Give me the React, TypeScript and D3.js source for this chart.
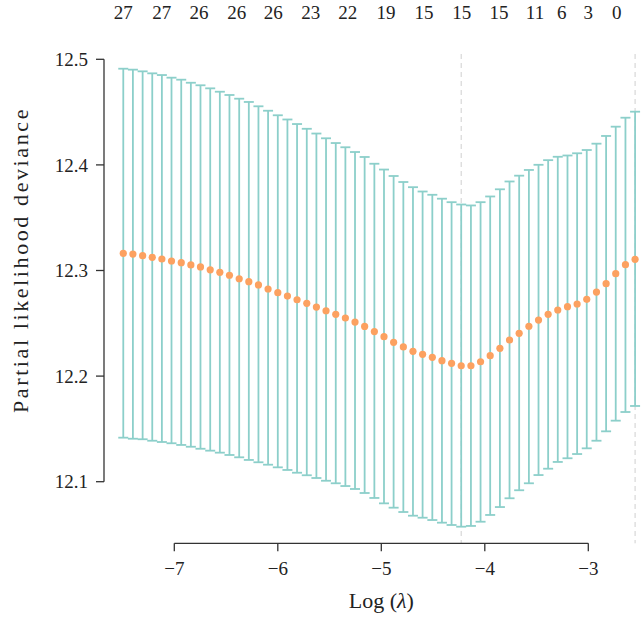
import React from "react";
import * as d3 from "d3";

const logLambda = [
  -7.493, -7.4, -7.306, -7.213, -7.12, -7.027, -6.933, -6.84, -6.747, -6.653,
  -6.56, -6.467, -6.373, -6.28, -6.187, -6.094, -6.0, -5.907, -5.814, -5.72,
  -5.627, -5.534, -5.44, -5.347, -5.254, -5.161, -5.067, -4.974, -4.881, -4.787,
  -4.694, -4.601, -4.507, -4.414, -4.321, -4.228, -4.134, -4.041, -3.948, -3.854,
  -3.761, -3.668, -3.574, -3.481, -3.388, -3.295, -3.201, -3.108, -3.015, -2.921,
  -2.828, -2.735, -2.641, -2.548,
];

const cvMean = [
  12.3163, 12.3156, 12.314, 12.3125, 12.3109, 12.309, 12.3074, 12.3053, 12.3034, 12.3006,
  12.2983, 12.2955, 12.2922, 12.2894, 12.2863, 12.2825, 12.279, 12.2758, 12.2723, 12.2689,
  12.2654, 12.2619, 12.2585, 12.255, 12.2512, 12.247, 12.2422, 12.2373, 12.232, 12.2276,
  12.2235, 12.2206, 12.2178, 12.2146, 12.2121, 12.2098, 12.2098, 12.2136, 12.2193, 12.2263,
  12.2342, 12.2405, 12.2472, 12.2531, 12.2585, 12.2626, 12.2657, 12.2683, 12.2727, 12.2796,
  12.2875, 12.297, 12.3055, 12.3106,
];

const cvUpper = [
  12.4911, 12.4902, 12.4886, 12.4867, 12.4851, 12.4826, 12.4807, 12.4778, 12.4754, 12.4725,
  12.4693, 12.4662, 12.4627, 12.4596, 12.4555, 12.4513, 12.447, 12.443, 12.4387, 12.4342,
  12.4297, 12.4252, 12.4207, 12.4167, 12.4122, 12.4075, 12.4011, 12.3956, 12.3895, 12.3838,
  12.3789, 12.3748, 12.3717, 12.368, 12.3647, 12.3625, 12.3616, 12.3647, 12.3701, 12.3769,
  12.3843, 12.3898, 12.3952, 12.4001, 12.4045, 12.4077, 12.4089, 12.411, 12.4141, 12.4201,
  12.4274, 12.4362, 12.4447, 12.4504,
];

const cvLower = [
  12.1417, 12.1407, 12.1402, 12.1388, 12.1376, 12.1364, 12.1348, 12.1331, 12.1312, 12.1294,
  12.1275, 12.1253, 12.1231, 12.1206, 12.1184, 12.1161, 12.1136, 12.1111, 12.1085, 12.1061,
  12.1035, 12.1009, 12.0985, 12.0959, 12.0931, 12.0893, 12.0846, 12.0795, 12.0754, 12.0713,
  12.0678, 12.0659, 12.0637, 12.0612, 12.059, 12.0574, 12.0581, 12.0621, 12.0685, 12.076,
  12.0843, 12.0919, 12.0985, 12.1063, 12.1123, 12.1187, 12.1222, 12.1262, 12.1316, 12.1388,
  12.1477, 12.1578, 12.166, 12.1717,
];

const topLabelPos = [
  -7.493, -7.122, -6.761, -6.397, -6.043, -5.682, -5.325, -4.955, -4.588, -4.223,
  -3.863, -3.515, -3.257, -3.0, -2.726,
];
const topLabels = ["27", "27", "26", "26", "26", "23", "22", "19", "15", "15", "15", "11", "6", "3", "0"];

const xTicks = [-7, -6, -5, -4, -3];
const yTicks = [12.1, 12.2, 12.3, 12.4, 12.5];
const lambdaMin = -4.228;
const lambda1se = -2.548;

const W = 641;
const H = 618;
const FONT = "'Liberation Serif', 'Times New Roman', serif";

export default function App() {
  const x = d3.scaleLinear().domain([-7, -3]).range([174.3, 588.3]);
  const y = d3.scaleLinear().domain([12.1, 12.5]).range([481.7, 59.3]);
  const axisX = 104;
  const axisY = 543.3;
  const plotTop = 54;
  const barColor = "#8ccfca";
  const dotColor = "#fca160";
  const capHalf = 5;
  const textColor = "#222";

  return (
    <svg
      width={W}
      height={H}
      style={{ position: "absolute", left: 0, top: 0, background: "#fff" }}
      fontFamily={FONT}
    >
      {/* reference lines */}
      {[lambdaMin, lambda1se].map((v, i) => (
        <line
          key={"ref" + i}
          x1={x(v)}
          x2={x(v)}
          y1={plotTop}
          y2={axisY}
          stroke="#cfcfcf"
          strokeWidth={1}
          strokeDasharray="5,4"
        />
      ))}
      {/* error bars */}
      {logLambda.map((v, i) => (
        <g key={"bar" + i} stroke={barColor} strokeWidth={1.8}>
          <line x1={x(v)} x2={x(v)} y1={y(cvUpper[i])} y2={y(cvLower[i])} />
          <line x1={x(v) - capHalf} x2={x(v) + capHalf} y1={y(cvUpper[i])} y2={y(cvUpper[i])} />
          <line x1={x(v) - capHalf} x2={x(v) + capHalf} y1={y(cvLower[i])} y2={y(cvLower[i])} />
        </g>
      ))}
      {/* mean points */}
      {logLambda.map((v, i) => (
        <circle key={"pt" + i} cx={x(v)} cy={y(cvMean[i])} r={3.6} fill={dotColor} />
      ))}
      {/* y axis */}
      <line x1={axisX} x2={axisX} y1={y(12.5)} y2={y(12.1)} stroke="#333" strokeWidth={1.3} />
      {yTicks.map((t) => (
        <g key={"yt" + t}>
          <line x1={axisX - 8} x2={axisX} y1={y(t)} y2={y(t)} stroke="#333" strokeWidth={1.3} />
          <text
            x={88}
            y={y(t)}
            dy="0.35em"
            textAnchor="end"
            fontSize={19}
            fill={textColor}
          >
            {t.toFixed(1)}
          </text>
        </g>
      ))}
      {/* x axis */}
      <line x1={x(-7)} x2={x(-3)} y1={axisY} y2={axisY} stroke="#333" strokeWidth={1.3} />
      {xTicks.map((t) => (
        <g key={"xt" + t}>
          <line x1={x(t)} x2={x(t)} y1={axisY} y2={axisY + 8} stroke="#333" strokeWidth={1.3} />
          <text x={x(t)} y={575} textAnchor="middle" fontSize={19} fill={textColor}>
            {"\u2212" + Math.abs(t)}
          </text>
        </g>
      ))}
      {/* top labels */}
      {topLabelPos.map((p, i) => (
        <text key={"top" + i} x={x(p)} y={18.5} textAnchor="middle" fontSize={19} fill={textColor}>
          {topLabels[i]}
        </text>
      ))}
      {/* axis titles */}
      <text x={x(-5)} y={608} textAnchor="middle" fontSize={22} fill={textColor}>
        Log (<tspan fontStyle="italic">λ</tspan>)
      </text>
      <text
        transform={`translate(28, 260) rotate(-90)`}
        textAnchor="middle"
        fontSize={22}
        letterSpacing={2.6}
        fill={textColor}
      >
        Partial likelihood deviance
      </text>
    </svg>
  );
}
